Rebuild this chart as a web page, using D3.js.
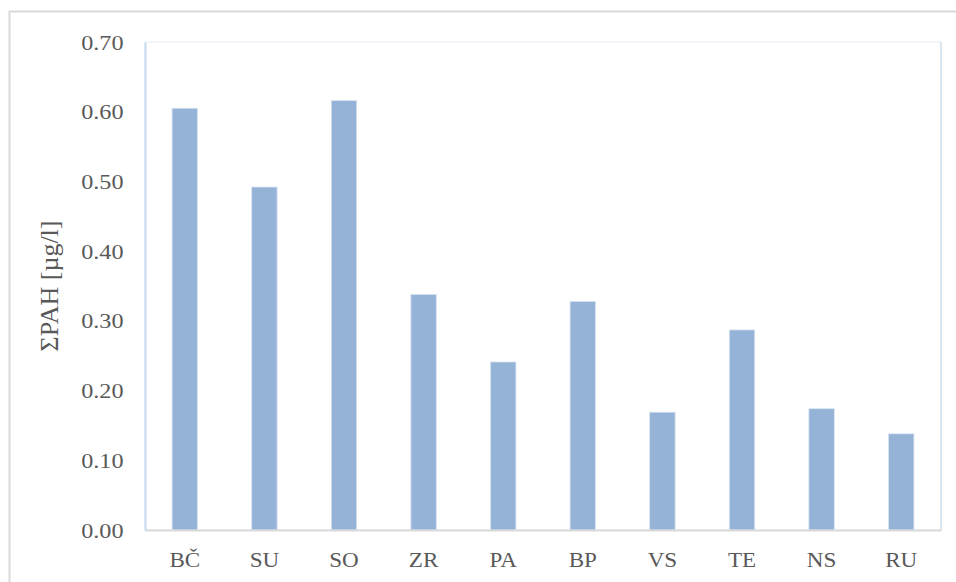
<!DOCTYPE html>
<html>
<head>
<meta charset="utf-8">
<script src="https://cdn.jsdelivr.net/npm/d3@7"></script>
<style>
  html, body { margin: 0; padding: 0; background: #ffffff; }
  svg { display: block; }
</style>
</head>
<body>
<svg id="chart" width="956" height="582"></svg>
<script>
const categories = ["BČ", "SU", "SO", "ZR", "PA", "BP", "VS", "TE", "NS", "RU"];
const values = [0.605, 0.492, 0.616, 0.338, 0.241, 0.328, 0.169, 0.287, 0.174, 0.138];
const yTicks = [0, 0.1, 0.2, 0.3, 0.4, 0.5, 0.6, 0.7];
const yTitle = "ΣPAH [µg/l]";

const svg = d3.select("#chart");
const W = 956, H = 582;
const m = { left: 145, right: 956 - 941, top: 42, bottom: 582 - 530 };
const font = '"Liberation Serif", "Times New Roman", serif';
const sx = 1.1;

// outer chart frame (only top/left visible in crop)
svg.append("rect")
  .attr("x", 9.5).attr("y", 11.5)
  .attr("width", 960).attr("height", 600)
  .attr("fill", "#ffffff")
  .attr("stroke", "#d9d9d9").attr("stroke-width", 2);

const x = d3.scaleBand().domain(categories)
  .range([m.left, W - m.right]).paddingInner(0.68).paddingOuter(0.34);
const y = d3.scaleLinear().domain([0, 0.7]).range([H - m.bottom, m.top]);

// plot area border (faint)
svg.append("rect")
  .attr("x", m.left).attr("y", m.top)
  .attr("width", W - m.right - m.left).attr("height", H - m.bottom - m.top)
  .attr("fill", "none").attr("stroke", "#eef3fa").attr("stroke-width", 1.5);

// right edge light blue
svg.append("line")
  .attr("x1", W - m.right).attr("x2", W - m.right)
  .attr("y1", m.top).attr("y2", H - m.bottom)
  .attr("stroke", "#d3e0f1").attr("stroke-width", 1.5);

// bars
svg.append("g").selectAll("rect").data(values).join("rect")
  .attr("x", (d, i) => x(categories[i]))
  .attr("y", d => y(d))
  .attr("width", x.bandwidth())
  .attr("height", d => y(0) - y(d))
  .attr("fill", "#95b3d7")
  .attr("stroke", "#dbe5f2").attr("stroke-width", 0.8);

// y axis
const yAxis = svg.append("g")
  .attr("transform", `translate(${m.left},0)`)
  .call(d3.axisLeft(y).tickValues(yTicks).tickFormat(d3.format(".2f")).tickSize(0).tickPadding(21.5));
yAxis.attr("font-family", null).attr("font-size", null);
yAxis.select(".domain").attr("stroke", "#c6d9f0").attr("stroke-width", 2);
yAxis.selectAll("text")
  .style("font-family", font).style("font-size", "22px").attr("fill", "#595959")
  .attr("x", -21.5 / sx)
  .attr("transform", `scale(${sx},1)`);

// x axis
const xAxis = svg.append("g")
  .attr("transform", `translate(0,${H - m.bottom})`)
  .call(d3.axisBottom(x).tickSize(0).tickPadding(22));
xAxis.attr("font-family", null).attr("font-size", null);
xAxis.select(".domain").attr("stroke", "#d9d9d9").attr("stroke-width", 2);
xAxis.selectAll("text")
  .style("font-family", font).style("font-size", "21px").attr("fill", "#595959")
  .attr("transform", `scale(${sx},1)`);

// y title
svg.append("text")
  .attr("transform", `translate(58,${(m.top + H - m.bottom) / 2}) rotate(-90)`)
  .attr("text-anchor", "middle")
  .style("font-family", font).style("font-size", "26px").attr("fill", "#595959")
  .text(yTitle);
</script>
</body>
</html>
